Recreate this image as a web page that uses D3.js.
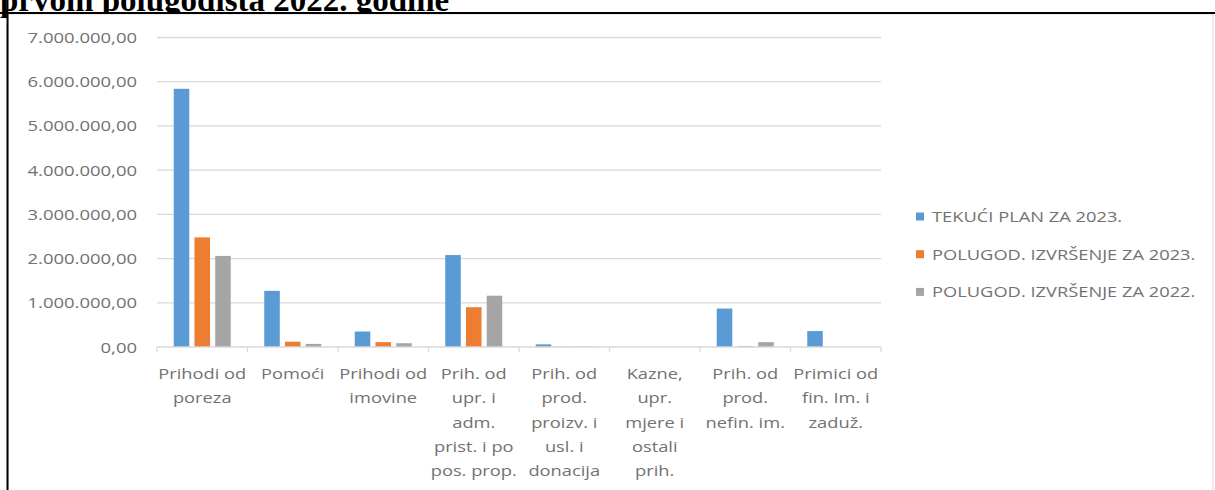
<!DOCTYPE html>
<html>
<head>
<meta charset="utf-8">
<script src="https://cdn.jsdelivr.net/npm/d3@7"></script>
<style>
  html, body { margin: 0; padding: 0; background: #fff; }
  svg { display: block; }
</style>
</head>
<body>
<svg id="chart" width="1215" height="490"></svg>
<script>
// ---- data ----
const titleText = "prvom polugodišta 2022. godine";
const categories = [
  ["Prihodi od", "poreza"],
  ["Pomoći"],
  ["Prihodi od", "imovine"],
  ["Prih. od", "upr. i", "adm.", "prist. i po", "pos. prop."],
  ["Prih. od", "prod.", "proizv. i", "usl. i", "donacija"],
  ["Kazne,", "upr.", "mjere i", "ostali", "prih."],
  ["Prih. od", "prod.", "nefin. im."],
  ["Primici od", "fin. Im. i", "zaduž."]
];
const seriesNames = ["TEKUĆI PLAN ZA 2023.", "POLUGOD. IZVRŠENJE ZA 2023.", "POLUGOD. IZVRŠENJE ZA 2022."];
const planValues2023 = [5840000, 1270000, 350000, 2080000, 60000, 0, 870000, 360000];
const realised2023   = [2480000, 120000, 110000, 900000, 5000, 0, 20000, 0];
const realised2022   = [2060000, 70000, 85000, 1160000, 10000, 0, 110000, 0];
const yTicks = [0, 1000000, 2000000, 3000000, 4000000, 5000000, 6000000, 7000000];
const colors = ["#5b9bd5", "#ed7d31", "#a5a5a5"];

// ---- layout ----
const svg = d3.select("#chart");
const plotLeft = 157, plotRight = 881, plotTop = 37.5, plotBottom = 347;
const sx = 1.22;   // horizontal stretch of category / legend text
const sxY = 1.32;  // horizontal stretch of value labels
const textColor = "#727272";
const gridColor = "#d9d9d9";

// title (clipped by the chart frame, as in the reference)
svg.append("text")
  .attr("x", 0).attr("y", 11)
  .attr("font-family", "'Liberation Serif', 'Times New Roman', serif")
  .attr("font-weight", "bold")
  .attr("font-size", 33)
  .attr("fill", "#000")
  .text(titleText);

// chart frame
svg.append("rect")
  .attr("x", 8).attr("y", 14).attr("width", 1205).attr("height", 490)
  .attr("fill", "#fff").attr("stroke", gridColor).attr("stroke-width", 1);
svg.append("line").attr("x1", 0).attr("x2", 1215).attr("y1", 13).attr("y2", 13)
  .attr("stroke", "#000").attr("stroke-width", 2);
svg.append("line").attr("x1", 7.5).attr("x2", 7.5).attr("y1", 0).attr("y2", 490)
  .attr("stroke", "#000").attr("stroke-width", 2);
svg.append("line").attr("x1", 107.5).attr("x2", 107.5).attr("y1", 0).attr("y2", 13)
  .attr("stroke", "#000").attr("stroke-width", 2);

// scales
const x0 = d3.scaleBand().domain(d3.range(categories.length))
  .range([plotLeft, plotRight]).paddingInner(0.37).paddingOuter(0.185);
const x1 = d3.scaleBand().domain(d3.range(seriesNames.length))
  .range([0, x0.bandwidth()]).paddingInner(0.25);
const y = d3.scaleLinear().domain([0, 7000000]).range([plotBottom, plotTop]);

const loc = d3.formatLocale({decimal: ",", thousands: ".", grouping: [3], currency: ["", ""]});
const fmt = loc.format(",.2f");

// gridlines
svg.append("g").selectAll("line").data(yTicks.filter(d => d > 0)).join("line")
  .attr("x1", plotLeft).attr("x2", plotRight)
  .attr("y1", d => y(d)).attr("y2", d => y(d))
  .attr("stroke", gridColor).attr("stroke-width", 1.3);

// y axis
const yAxis = svg.append("g").attr("transform", `translate(${plotLeft},0)`)
  .call(d3.axisLeft(y).tickValues(yTicks).tickFormat(fmt).tickSize(0));
yAxis.select(".domain").remove();
yAxis.selectAll("text")
  .attr("font-family", "'Open Sans', sans-serif")
  .attr("font-size", 14)
  .attr("fill", textColor)
  .attr("x", -20 / sxY)
  .attr("dy", "0.36em")
  .attr("transform", `scale(${sxY},1)`);

// bars
const series = [planValues2023, realised2023, realised2022];
const groups = svg.append("g").selectAll("g").data(categories.map((c, i) => i)).join("g")
  .attr("transform", i => `translate(${x0(i)},0)`);
groups.selectAll("rect").data(i => series.map((s, k) => ({k, v: s[i]}))).join("rect")
  .attr("x", d => x1(d.k))
  .attr("width", x1.bandwidth())
  .attr("y", d => y(d.v))
  .attr("height", d => plotBottom - y(d.v))
  .attr("fill", d => colors[d.k]);

// x axis line and ticks
svg.append("line").attr("x1", plotLeft).attr("x2", plotRight)
  .attr("y1", plotBottom).attr("y2", plotBottom)
  .attr("stroke", gridColor).attr("stroke-width", 1.3);
svg.append("g").selectAll("line").data(d3.range(categories.length + 1)).join("line")
  .attr("x1", i => plotLeft + i * x0.step())
  .attr("x2", i => plotLeft + i * x0.step())
  .attr("y1", plotBottom).attr("y2", plotBottom + 5)
  .attr("stroke", gridColor).attr("stroke-width", 1.3);

const labels = svg.append("g").selectAll("g").data(categories.map((c, i) => i)).join("g")
  .attr("transform", i => `translate(${x0(i) + x0.bandwidth() / 2},0) scale(${sx},1)`);
labels.append("text")
  .attr("text-anchor", "middle")
  .attr("font-family", "'Open Sans', sans-serif")
  .attr("font-size", 15)
  .attr("fill", textColor)
  .selectAll("tspan").data(i => categories[i]).join("tspan")
  .attr("x", 0)
  .attr("y", (d, j) => 379 + j * 24.3)
  .text(d => d);

// legend
const legend = svg.append("g").selectAll("g").data(seriesNames).join("g")
  .attr("transform", (d, i) => `translate(916,${216.5 + i * 37.7})`);
legend.append("rect").attr("x", 0).attr("y", -4).attr("width", 8).attr("height", 8)
  .attr("fill", (d, i) => colors[i]);
legend.append("text")
  .attr("transform", `translate(16,0) scale(${sx},1)`)
  .attr("dy", "0.36em")
  .attr("font-family", "'Open Sans', sans-serif")
  .attr("font-size", 15)
  .attr("fill", textColor)
  .text(d => d);
</script>
</body>
</html>
